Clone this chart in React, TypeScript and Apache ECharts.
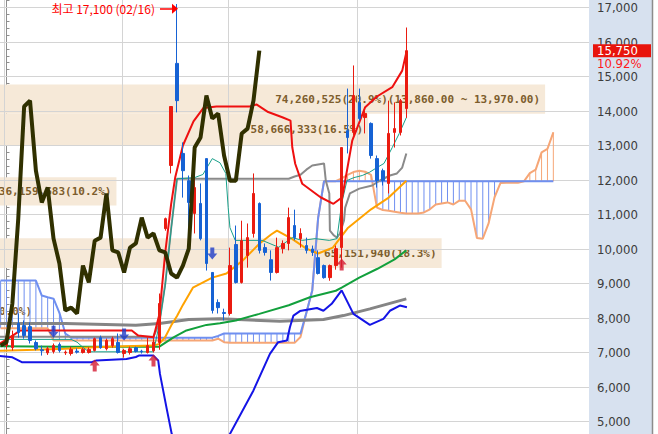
import React, { useEffect, useRef } from 'react';
import * as echarts from 'echarts';

// ---------- Candles (index 0..68) ----------
const opens = [7200, 7143, 7840, 7780, 7750, 7290, 7080, 6990, 7030, 7230,
  6990, 6970, 7040, 7000, 7000, 7060, 7430, 7110, 7200, 7290,
  6970, 7000, 7140, 7040, 7000, 7050, 7290, 10590, 12420, 15380,
  12770, 11980, 11030, 11320, 12620, 9320, 8450, 8160, 8130, 10130,
  9030, 9810, 10450, 11320, 10040, 9690, 9320, 10010, 10160, 10680,
  10300, 10100, 10000, 9750, 9520, 9170, 9520, 10040, 13430, 13380,
  14250, 13810, 13640, 12620, 12270, 11900, 13380, 13380, 14070];
const closes = [7350, 7490, 7580, 7490, 7350, 7110, 7050, 7110, 7200, 7056,
  7010, 7090, 7010, 7090, 7090, 7400, 7140, 7350, 7400, 7000,
  7060, 7110, 7030, 7020, 7200, 7300, 8420, 10880, 14130, 14300,
  12270, 11350, 11780, 10300, 9580, 8220, 8300, 8130, 9520, 9030,
  10240, 10330, 11610, 9960, 9900, 9320, 10040, 10160, 10910, 10330,
  10450, 9960, 9900, 9290, 9170, 9520, 10010, 12940, 13230, 14450,
  13780, 13930, 12710, 11980, 11980, 13350, 13490, 14300, 15750];
const lows = [7100, 7056, 7430, 7400, 7260, 7060, 6910, 6930, 6970, 7000,
  6930, 6910, 6970, 6970, 6970, 7030, 7110, 7060, 7140, 6970,
  6850, 6940, 7000, 6970, 6970, 7000, 7080, 10530, 12190, 13960,
  11490, 10450, 10450, 10250, 9375, 8130, 8130, 7930, 8070, 9000,
  9000, 9460, 10330, 9870, 9810, 9085, 9290, 9870, 9960, 10250,
  10040, 9870, 9800, 9260, 9140, 9080, 9400, 9460, 12770, 13290,
  13720, 13350, 12620, 11780, 11840, 11610, 12940, 13290, 13800];
const highs = [7450, 7636, 8130, 7930, 7870, 7350, 7200, 7170, 7260, 7290,
  7060, 7170, 7120, 7140, 7150, 7430, 7490, 7400, 7460, 7550,
  7110, 7170, 7170, 7080, 7430, 7450, 8710, 10910, 14130, 17100,
  13090, 12130, 12070, 11900, 12620, 9320, 8540, 8270, 10040, 10680,
  10820, 10740, 12190, 11350, 10160, 9960, 10330, 10250, 11200, 11140,
  10600, 10330, 10100, 9960, 9550, 9550, 10100, 12940, 14650, 15320,
  14650, 14010, 13670, 12710, 12330, 14300, 14250, 14350, 16420];

// ---------- Ichimoku cloud (one value per index, from -1 to 93) ----------
const cloudStart = -1;
const spanA = [9085, 9085, 9085, 9085, 9085, 9085, 9085,
  8650, 8600, 8560, 8150, 7550,
  7430, 7430, 7430, 7430, 7430, 7430, 7430, 7430, 7430, 7430,
  7430, 7430, 7430, 7430, 7430, 7430, 7430, 7430, 7430, 7430,
  7430, 7430, 7430, 7430, 7430,
  7480,
  7550, 7550, 7550, 7550, 7550, 7550, 7550, 7550, 7550, 7550, 7550, 7550, 7550, 7550,
  8150, 8800, 10900,
  11965, 11965, 11965, 11965, 11965, 11965, 11965, 11965, 11965, 11965,
  11965, 11965, 11965, 11965, 11965, 11965, 11965, 11965, 11965, 11965,
  11965, 11965, 11965, 11965, 11965, 11965, 11965, 11965, 11965, 11965,
  11965, 11965, 11965, 11965, 11965, 11965, 11965, 11965, 11965, 11965];
const spanB = [7700, 7700, 7700, 7700, 7700, 7700, 7700, 7700, 7700,
  7350, 7350, 7350, 7350, 7350, 7350, 7350, 7350, 7350, 7350,
  7350, 7350, 7350, 7350, 7350, 7350, 7350, 7350, 7350, 7350,
  7350, 7350, 7350, 7350, 7350, 7350, 7350, 7350,
  7400, 7300,
  7280, 7280, 7280, 7280, 7280, 7280, 7280, 7280, 7280, 7280, 7280, 7280,
  7450, 8150, 8800, 10900,
  11965, 11965, 11965,
  12050, 12150, 12230, 12270, 12240, 12150,
  11200, 11130, 11110, 11080, 11050, 11030,
  11030, 11030, 11060, 11150,
  11290, 11320, 11350, 11290, 11400, 11400, 11150, 10320, 10300, 10750,
  11500, 11910, 11920, 11920, 11920, 11960, 12200, 12300, 12800, 12900, 13380];

// ---------- Indicator lines: [index, price] ----------
const tenkan = [[-1.2, 7380], [11, 7380], [12, 7300], [13, 7150], [14, 7020], [25, 7020], [26, 7830], [27, 8940],
  [28, 10550], [29, 12035], [32, 12070], [33.4, 12160], [35, 12620], [36.3, 12500], [37.3, 12190], [37.7, 11200],
  [38, 10620], [38.9, 10250], [43.5, 10250], [46.3, 10050], [48.6, 10330], [50.3, 10250], [52.5, 10300],
  [54.9, 10250], [56.2, 10300], [57, 11320], [57.9, 11985], [59.1, 12070], [60.5, 12130], [61.7, 12220],
  [63, 12360], [64.2, 12480], [65.6, 12940], [66.8, 13350], [68, 13810]];
const kijun = [[-1.2, 7460], [25, 7460], [26, 7850], [27, 9000], [28, 10600], [29, 12035], [48, 12035], [49, 12100],
  [50, 12150], [51, 12300], [52, 12420], [54, 12480], [54.3, 11985], [54.9, 11610], [55, 10535], [55.7, 10390],
  [56.2, 10330], [56.7, 10450], [57.4, 10830], [57.6, 11200], [58.4, 11610], [60, 11750], [62.2, 11840],
  [63.5, 11985], [65.2, 12130], [66.4, 12190], [67.3, 12360], [68, 12770]];
const maOrange = [[-1.2, 7050], [5, 7080], [10, 7110], [15, 7150], [20, 7180], [25, 7200], [26, 7250], [27, 7450],
  [28, 7780], [29, 8060], [30, 8380], [31.7, 8880], [35, 9170], [37.4, 9290], [40.2, 9670], [43, 10150],
  [45, 10420], [46, 10530], [48.5, 10300], [51, 10010], [53, 9870], [55.5, 10040], [58, 10600], [62, 11150],
  [65, 11490], [68, 11980]];
const maGreen = [[-1.2, 7180], [10, 7170], [20, 7170], [26, 7170], [28.4, 7440], [30.6, 7640], [34, 7800],
  [36.3, 7850], [39, 7930], [43, 8120], [48, 8370], [51.6, 8600], [56, 8790], [57, 8880], [60, 9170],
  [63, 9420], [66, 9700], [68, 9960]];
const maGray = [[-1.2, 7840], [10, 7840], [22, 7790], [26, 7840], [31, 7955], [36.3, 7975], [46.5, 7905],
  [53.9, 7955], [57.3, 8070], [61.8, 8265], [68, 8555]];
const bbUpper = [[-1.2, 7250], [0.6, 7440], [2.3, 7636], [21.3, 7636], [22.4, 7490], [25, 7440], [26, 8100],
  [27, 9900], [28, 11300], [28.7, 12080], [30, 13000], [31.8, 13700], [33.5, 14090], [35.7, 14130],
  [41.4, 14130], [42.5, 14190], [44.5, 13970], [46.9, 13820], [48.3, 13720], [48.6, 12950], [49.1, 12470],
  [50.3, 11890], [53.4, 11500], [55.6, 11310], [57.1, 11500], [58.8, 13140], [61, 14110], [63, 14420],
  [65.6, 14690], [67.3, 15170], [68, 15700]];
const bbLower = [[-1.2, 6900], [1, 6860], [2.6, 6720], [14.5, 6720], [15.3, 6770], [20.4, 6810], [22, 6870],
  [22.5, 6910], [25, 6910], [25.8, 6770], [26.1, 6380], [27.2, 5410], [28.1, 4640], [30, 3800], [34, 3300],
  [37, 4100], [38, 4640], [42, 5900], [44.8, 6960], [46.2, 7300], [47.7, 7350], [48.2, 7730], [48.8, 8070],
  [49.9, 8200], [52.8, 8290], [53.9, 8210], [55.3, 8410], [57, 8800], [59, 8120], [61.8, 7800], [64.1, 7975],
  [65.2, 8210], [66.9, 8360], [68.1, 8310]];
const chikouShift = 25;

// ---------- Signals ----------
const sellSignals = [[8, 7600], [20, 7520], [35, 9870]];
const buySignals = [[15, 6620], [25, 6770], [57, 9550]];

// ---------- Price-volume bands ----------
const bandTops = [14770, 13920, 12080, 10310, 8600];
const bandBottoms = [13920, 13000, 11260, 9450, 7800];
const bandEnds = [91.6, 61.5, 18.7, 74.0, 5.2];
const bandLabels = ['74,260,525(20.9%)(13,860.00 ~ 13,970.00)', '58,666,333(16.5%)', '36,159,683(10.2%)',
  '65,151,940(18.3%)', '0(0.0%)'];
const bandVisible = [true, true, true, true, false];

// ---------- Axes ----------
const priceTicks = [5000, 6000, 7000, 8000, 9000, 10000, 11000, 12000, 13000, 14000, 15000, 16000, 17000];
const monthStarts = [-0.45, 19.75, 37.7, 59.65];
const highMark = { from: 26.1, to: 28.66, price: 16962, text: '최고 17,100 (02/16)' };
const lastPrice = 15750;
const lastPriceText = '15,750';
const lastChangeText = '10.92%';

const X_MIN = -1.1054;
const X_MAX = 99.065;
const Y_MIN = 4000;
const Y_MAX = 18000;

// chart canvas is taller than the window and shifted up, so that 17,000 sits at y=7 and 5,000 at y=421
const SHIFT = 27.5;
const CHART_H = 483;

const UP = '#ea1b10';
const DOWN = '#1662d4';
const SPAN_A = '#6f8ff0';
const SPAN_B = '#f6a676';
const AXIS_FONT = "'Liberation Sans Narrow', 'DejaVu Sans Condensed', 'Liberation Sans', sans-serif";

const line = (name: string, data: number[][], color: string, width: number, z: number) => ({
  name, type: 'line', data, showSymbol: false, symbol: 'none', silent: true, z,
  lineStyle: { color, width }, itemStyle: { color },
});

export default function App() {
  const ref = useRef<HTMLDivElement>(null);
  useEffect(() => {
    const chart = echarts.init(ref.current!, undefined, { renderer: 'svg' });
    const candleData = opens.map((o, i) => [i, o, closes[i], lows[i], highs[i]]);
    const cloudData = spanA.map((a, k) => [cloudStart + k, a, spanB[k]]);
    const chikouData = closes.slice(chikouShift - 1).map((c, k) => [k - 1, c]);

    const option: any = {
      animation: false,
      grid: {
        left: 0, width: 589, top: 0, height: CHART_H, show: false,
        containLabel: false, outerBoundsMode: 'none',
      },
      xAxis: { type: 'value', min: X_MIN, max: X_MAX, show: false, splitLine: { show: false } },
      yAxis: {
        type: 'value', position: 'right', min: Y_MIN, max: Y_MAX, interval: 1000,
        axisLine: { show: true, lineStyle: { color: '#8e8e8e', width: 1 } },
        axisTick: { show: true, length: 6, lineStyle: { color: '#8e8e8e' } },
        minorTick: { show: true, splitNumber: 5, length: 3, lineStyle: { color: '#8e8e8e' } },
        axisLabel: {
          color: '#3c3c3c', fontSize: 13, fontFamily: AXIS_FONT, margin: 8,
          showMinLabel: false, showMaxLabel: false,
          formatter: (v: number) => v.toLocaleString('en-US'),
        },
        splitLine: { show: false },
      },
      graphic: [
        { type: 'rect', z: -5, shape: { x: 589, y: 0, width: 64, height: CHART_H }, style: { fill: '#d7e1ef' } },
        { type: 'line', z: 10, shape: { x1: 652.5, y1: 0, x2: 652.5, y2: CHART_H }, style: { stroke: '#8c8c8c', lineWidth: 1.5 } },
      ],
      series: [
        {
          name: 'bands', type: 'line', data: [], silent: true,
          markArea: {
            silent: true, z: 1,
            itemStyle: { color: '#f6e9d8' },
            label: {
              show: true, position: 'insideRight', distance: 5, color: '#7d5d2c',
              fontFamily: "'DejaVu Sans Mono', monospace", fontWeight: 'bold', fontSize: 11,
            },
            data: bandLabels.map((name, k) => [
              { name, xAxis: -1.3, yAxis: bandTops[k], itemStyle: { color: bandVisible[k] ? '#f6e9d8' : 'rgba(0,0,0,0)' } },
              { xAxis: bandEnds[k], yAxis: bandBottoms[k] },
            ]),
          },
        },
        {
          name: 'gridlines', type: 'line', data: [], silent: true,
          markLine: {
            silent: true, z: 1.5, symbol: ['none', 'none'], label: { show: false },
            lineStyle: { color: '#d4d4d4', width: 1, type: 'solid' },
            data: [
              ...priceTicks.map((p) => ({ yAxis: p })),
              ...monthStarts.map((m) => ({ xAxis: m })),
            ],
          },
        },
        {
          name: 'cloud', type: 'custom', data: cloudData, z: 3, silent: true,
          encode: { x: 0, y: [1, 2] },
          renderItem: (params: any, api: any) => {
            const x = api.value(0), a = api.value(1), b = api.value(2);
            const p1 = api.coord([x, a]);
            const p2 = api.coord([x, b]);
            return {
              type: 'line',
              shape: { x1: p1[0], y1: p1[1], x2: p2[0], y2: p2[1] },
              style: { stroke: a >= b ? SPAN_A : SPAN_B, lineWidth: 1 },
            };
          },
        },
        line('spanB', spanB.map((b, k) => [cloudStart + k, b]), SPAN_B, 2, 3),
        line('spanA', spanA.map((a, k) => [cloudStart + k, a]), SPAN_A, 2, 3),
        line('ma120', maGray, '#858585', 3, 4),
        line('ma60', maGreen, '#12a03c', 2, 4),
        line('ma20', maOrange, '#ffa200', 2, 4),
        line('kijun', kijun, '#8a8a8a', 2, 4),
        line('tenkan', tenkan, '#18a08a', 1, 4),
        line('bbUpper', bbUpper, '#ee1010', 2, 4),
        line('bbLower', bbLower, '#1414e6', 2, 4),
        {
          name: 'candles', type: 'candlestick', data: candleData, barWidth: 3, z: 5, silent: true,
          itemStyle: { color: UP, color0: DOWN, borderColor: UP, borderColor0: DOWN, borderWidth: 1 },
          markLine: {
            silent: true, z: 8, symbol: ['none', 'triangle'], symbolSize: [10, 6],
            lineStyle: { color: '#ff0000', width: 1.5, type: 'solid' },
            label: {
              show: true, position: 'start', distance: 5, color: '#ff0000', fontSize: 12,
              fontFamily: "'Noto Sans CJK KR', sans-serif", formatter: highMark.text,
            },
            data: [[{ coord: [highMark.from, highMark.price] }, { coord: [highMark.to, highMark.price] }]],
          },
        },
        line('chikou', chikouData, '#303000', 4, 6),
        {
          name: 'sell', type: 'scatter', data: sellSignals, z: 7, silent: true,
          symbol: 'path://M3 0H7V6H10L5 12L0 6H3Z', symbolSize: [10, 12],
          itemStyle: { color: '#1f3cc8' },
        },
        {
          name: 'buy', type: 'scatter', data: buySignals, z: 7, silent: true,
          symbol: 'path://M5 0L10 6H7V12H3V6H0Z', symbolSize: [10, 12],
          itemStyle: { color: '#d41a32' },
        },
        {
          name: 'lastPrice', type: 'line', data: [], silent: true,
          markLine: {
            silent: true, z: 9, symbol: ['none', 'none'],
            lineStyle: { color: 'rgba(0,0,0,0)', width: 0 },
            label: {
              show: true, position: 'end', distance: 4,
              formatter: `{c| }\n{a|${lastPriceText}}\n{b|${lastChangeText}}`,
              rich: {
                c: { lineHeight: 12, height: 12, fontSize: 12 },
                a: {
                  backgroundColor: '#e8140c', color: '#ffffff', width: 54, height: 13, lineHeight: 13,
                  padding: [0, 0, 0, 4], fontSize: 13, fontFamily: AXIS_FONT,
                },
                b: { color: '#ff1a1a', lineHeight: 12, height: 12, padding: [0, 0, 0, 4], fontSize: 13, fontFamily: AXIS_FONT },
              },
            },
            data: [{ yAxis: lastPrice }],
          },
        },
      ],
    };
    chart.setOption(option);
    return () => chart.dispose();
  }, []);
  return (
    <div style={{ position: 'fixed', left: 0, top: 0, width: 658, height: 434, overflow: 'hidden', background: '#ffffff' }}>
      <div ref={ref} style={{ position: 'absolute', left: 0, top: -SHIFT, width: 658, height: CHART_H }} />
    </div>
  );
}
